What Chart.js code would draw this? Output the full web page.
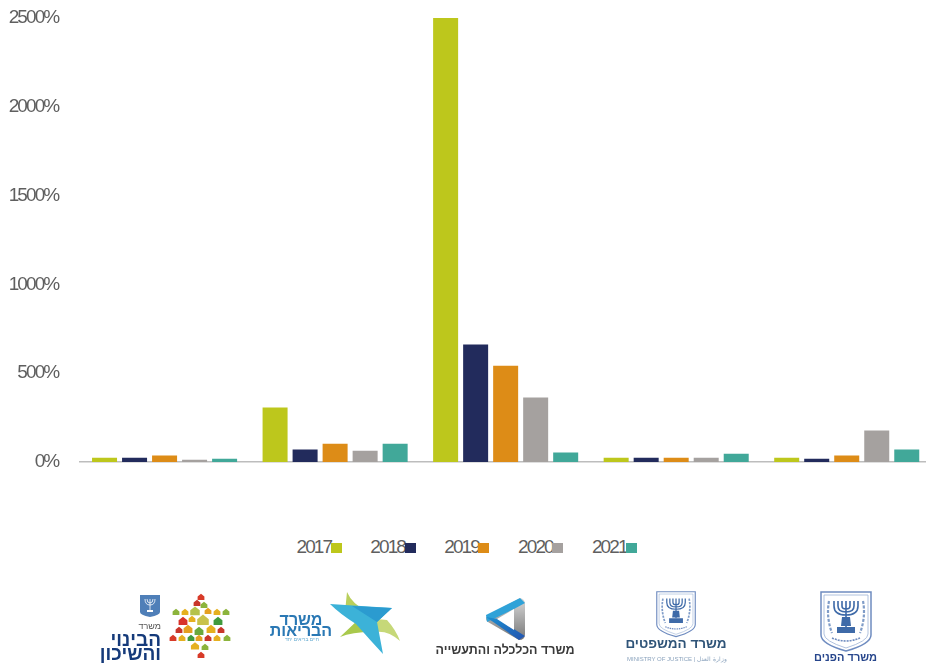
<!DOCTYPE html>
<html lang="he">
<head>
<meta charset="utf-8">
<script src="https://cdn.jsdelivr.net/npm/chart.js@4"></script>
<style>
html,body{margin:0;padding:0;width:926px;height:663px;overflow:hidden;background:#fff;font-family:"Liberation Sans",Arial,sans-serif}
#wrap{position:absolute;left:0;top:0;width:926px;height:663px;overflow:hidden}
#c{position:absolute;left:0;top:0}
#legend{position:absolute;left:296.5px;top:536px;display:flex;gap:28.7px;color:#5f5f5f;font-size:19px;letter-spacing:-1.9px;line-height:22px;white-space:nowrap}
#legend .it{display:flex;align-items:center}
#legend i{display:block;width:11px;height:10px;margin-left:-.5px;margin-top:1px}
.t{position:absolute;white-space:nowrap;direction:rtl;font-weight:700;text-align:center;line-height:1}
svg.l{position:absolute;left:0;top:0;filter:blur(.35px)}
</style>
</head>
<body>
<div id="wrap">
<canvas id="c" width="932" height="480"></canvas>
<div id="legend"></div>

<svg class="l" width="926" height="663" viewBox="0 0 926 663">
<defs>
<g id="emblem">
 <path d="M1 1H51V44Q51 53 26 60Q1 53 1 44Z" fill="#fff" stroke="#6f8cc0" stroke-width="1.5"/>
 <path d="M4 4H48V43Q48 50 26 57Q4 50 4 43Z" fill="none" stroke="#9db3d6" stroke-width=".8"/>
 <g fill="none" stroke="#3e6aa8" stroke-width="1.6">
  <path d="M26 10V36M14 10V15Q14 24 26 24Q38 24 38 15V10M18 10V15Q18 21 26 21Q34 21 34 15V10M22 10V15Q22 18 26 18Q30 18 30 15V10"/>
 </g>
 <path d="M22 26H30L31 35H21ZM17 36H35V42H17Z" fill="#3e6aa8"/>
 <g stroke="#7f9cc8" stroke-width="2.2" stroke-dasharray="3 1.5" fill="none">
  <path d="M9 10Q6 26 12 42"/><path d="M43 10Q46 26 40 42"/>
 </g>
 <path d="M12 47Q26 53 40 47" stroke="#6f8cc0" stroke-width="1.6" stroke-dasharray="2 1" fill="none"/>
</g>
<g id="h"><path d="M-3.4 -.5L0 -3.2L3.4 -.5V3H-3.4Z"/></g>
<linearGradient id="gb" x1="0" y1="0" x2="1" y2="1"><stop offset="0" stop-color="#1c8fd0"/><stop offset="1" stop-color="#2353b0"/></linearGradient>
<linearGradient id="gg" x1="0" y1="0" x2="0" y2="1"><stop offset="0" stop-color="#d8d8d8"/><stop offset="1" stop-color="#777"/></linearGradient>
</defs>

<!-- Interior -->
<use href="#emblem" x="820" y="591"/>
<!-- Justice -->
<use href="#emblem" transform="translate(656 591) scale(.77 .76)"/>
<!-- Economy -->
<path d="M520 598Q525 599 525 604V634Q525 640 519 640L488 622Q484 619 488 615Z" fill="url(#gg)"/>
<path d="M520 598L486 615L487 622L514 609L525 603Z" fill="#2fa2d8"/>
<path d="M486 617L519 640L525 636L498 619Z" fill="url(#gb)"/>
<path d="M514 609V630L497 619Z" fill="#fff"/>
<!-- Health -->
<path d="M347 592Q352 604 368 612L345 612Z" fill="#b9cf5c"/>
<path d="M365 618L387 620Q396 630 400 641Q388 630 375 632Z" fill="#c6d878"/>
<path d="M340 637L360 618L372 632Q352 632 340 637Z" fill="#a9c94c"/>
<path d="M330 604L392 608L377 622L383 654Q370 640 356 624Q340 614 330 604Z" fill="#3cb2d8"/>
<path d="M352 606L392 608L377 622Z" fill="#2b9bd0"/>
<!-- Housing emblem -->
<path d="M140 595H160V612Q160 615 150 617Q140 615 140 612Z" fill="#4f7fb8"/>
<path d="M150 599V610M145 599Q145 605 150 605Q155 605 155 599M147 599Q147 603 150 603Q153 603 153 599" fill="none" stroke="#fff" stroke-width=".8"/>
<path d="M147 610H153V612H147Z" fill="#fff"/>
<!-- Housing star -->
<g fill="#e5b020">
 <use href="#h" x="201" y="597" fill="#d83a28"/><use href="#h" x="197" y="603" fill="#c8362a"/><use href="#h" x="204" y="605" fill="#8cb43c"/>
 <use href="#h" x="176" y="612" fill="#8cb43c"/><use href="#h" x="185" y="612" fill="#e5b020"/><use href="#h" transform="translate(195 611) scale(1.4)" fill="#b5c24a"/>
 <use href="#h" x="208" y="611" fill="#e5a020"/><use href="#h" x="217" y="612" fill="#e5b020"/><use href="#h" x="226" y="612" fill="#8cb43c"/>
 <use href="#h" transform="translate(183 621) scale(1.3)" fill="#d8322a"/><use href="#h" x="192" y="619" fill="#e5b020"/><use href="#h" transform="translate(203 620) scale(1.7)" fill="#c9c24a"/>
 <use href="#h" transform="translate(218 621) scale(1.3)" fill="#3f9a3c"/><use href="#h" x="179" y="630" fill="#c8362a"/><use href="#h" transform="translate(188 629) scale(1.3)" fill="#e5a020"/>
 <use href="#h" transform="translate(199 631) scale(1.3)" fill="#6aa83c"/><use href="#h" transform="translate(211 629) scale(1.3)" fill="#e5b020"/><use href="#h" x="221" y="630" fill="#c8362a"/>
 <use href="#h" x="173" y="638" fill="#d83a28"/><use href="#h" x="182" y="638" fill="#e5b020"/><use href="#h" x="191" y="638" fill="#3f9a3c"/><use href="#h" x="199" y="638" fill="#e5a020"/>
 <use href="#h" x="208" y="638" fill="#c8362a"/><use href="#h" x="217" y="638" fill="#e5b020"/><use href="#h" x="227" y="638" fill="#8cb43c"/>
 <use href="#h" transform="translate(195 646) scale(1.2)" fill="#e5b020"/><use href="#h" x="205" y="647" fill="#8cb43c"/><use href="#h" x="201" y="655" fill="#d83a28"/>
</g>
</svg>

<div class="t" style="left:815px;width:62px;top:652px;font-size:11px;color:#27468c">משרד הפנים</div>
<div class="t" style="left:620px;width:112px;top:637px;font-size:13.5px;color:#2f5478">משרד המשפטים</div>
<div class="t" style="left:627px;width:98px;top:656px;font-size:6px;font-weight:400;color:#8ba3bd;direction:ltr">MINISTRY OF JUSTICE | وزارة العدل</div>
<div class="t" style="left:430px;width:150px;top:644px;font-size:12.5px;color:#3a3a3a">משרד הכלכלה והתעשייה</div>
<div class="t" style="left:265px;width:72px;top:612px;font-size:16px;color:#2a78b4">משרד</div>
<div class="t" style="left:265px;width:72px;top:623px;font-size:16px;color:#2a78b4">הבריאות</div>
<div class="t" style="left:280px;width:44px;top:637px;font-size:5px;font-weight:400;color:#5fa8cf">חיים בריאים יחד</div>
<div class="t" style="left:125px;width:36px;top:622px;font-size:9px;font-weight:400;color:#555;text-align:right">משרד</div>
<div class="t" style="left:90px;width:71px;top:630px;font-size:19px;color:#153a7a;text-align:right">הבינוי</div>
<div class="t" style="left:90px;width:71px;top:644px;font-size:19px;color:#153a7a;text-align:right">והשיכון</div>
</div>

<script>
const categories = ["משרד הבינוי והשיכון","משרד הבריאות","משרד הכלכלה והתעשייה","משרד המשפטים","משרד הפנים"];
const years = ["2017","2018","2019","2020","2021"];
const colors = ["#bdc71c","#222b5c","#dd8c17","#a5a19f","#41a899"];
const v2017 = [24,307,2500,24,24];
const v2018 = [24,70,662,24,19];
const v2019 = [36,103,542,24,36];
const v2020 = [13,64,363,24,177];
const v2021 = [19,103,53,47,71];
const yTicks = [0,500,1000,1500,2000,2500];
const series = [v2017,v2018,v2019,v2020,v2021];

const spacing = {
  id:'spacing',
  beforeLayout(ch){ ch.ctx.letterSpacing='-1.9px'; },
  beforeDraw(ch){ ch.ctx.letterSpacing='-1.9px'; }
};
const chart = new Chart(document.getElementById('c'),{
  type:'bar',
  data:{labels:categories,datasets:series.map((d,i)=>({label:years[i],data:d,backgroundColor:colors[i],borderWidth:0,
    categoryPercentage:.88,barPercentage:.833}))},
  options:{
    responsive:false,animation:false,devicePixelRatio:1,
    layout:{padding:{top:18,bottom:18,left:0,right:0}},
    plugins:{legend:{display:false},tooltip:{enabled:false}},
    scales:{
      x:{ticks:{display:false},grid:{display:false,drawTicks:false},border:{color:'#bdbdbd',width:1.5}},
      y:{min:0,max:2500,
        afterBuildTicks(s){s.ticks=yTicks.map(value=>({value}));},
        afterFit(s){s.width=79.3;s.paddingTop=0;s.paddingBottom=0;},
        grid:{display:false,drawTicks:false},border:{display:false},
        ticks:{padding:21,color:'#5f5f5f',font:{family:'"Liberation Sans"',size:19},callback:v=>v+'%'}}
    }
  },
  plugins:[spacing]
});
const lg=document.getElementById('legend');
years.forEach((y,i)=>{
  const it=document.createElement('div');it.className='it';
  const s=document.createElement('span');s.textContent=y;
  const m=document.createElement('i');m.style.background=colors[i];
  it.append(s,m);lg.append(it);
});
</script>
</body>
</html>
